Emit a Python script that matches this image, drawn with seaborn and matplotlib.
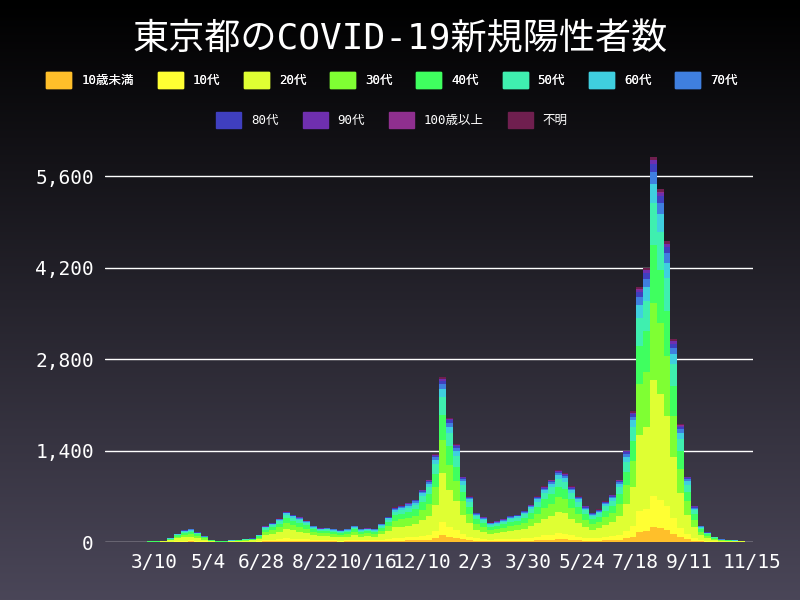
import numpy as np
import pandas as pd
import matplotlib.pyplot as plt
import seaborn as sns
from matplotlib.patches import Patch

# 週ごとの新規陽性者数（日次のピーク付近をグラフから読み取り）
totals = [1, 1, 2, 3, 5, 5, 10, 10, 20, 60,
          130, 180, 200, 150, 90, 30, 10, 10, 25, 30, 45, 55,
          110, 240, 290, 360, 470, 420, 380, 330, 250, 210, 220, 200, 180,
          200, 250, 200, 210, 200, 280, 390, 530, 560, 600, 650, 800, 950,
          1350, 2520, 1900, 1500, 1000, 700, 450, 380, 300, 320, 350, 400, 420,
          480, 570, 700, 850, 950, 1100, 1050, 850, 700, 550, 450, 500, 620,
          720, 950, 1400, 2000, 3900, 4200, 5900, 5400, 4600, 3100, 1800,
          1000, 550, 250, 150, 80, 40, 30, 25, 20]
start = "2020-01-20"

groups = ["10歳未満", "10代", "20代", "30代", "40代", "50代", "60代", "70代",
          "80代", "90代", "100歳以上", "不明"]
shares = [0.04, 0.08, 0.30, 0.20, 0.15, 0.11, 0.05, 0.03, 0.02, 0.01, 0.001, 0.009]
colors = ["#ffbf2a", "#ffff33", "#dfff33", "#7fff33", "#3fff5f", "#3fefaf",
          "#3fcfdf", "#3f7fdf", "#3f3fbf", "#6f2faf", "#8f2f8f", "#6f1f4f"]

tick_dates = ["2020-03-10", "2020-05-04", "2020-06-28", "2020-08-22", "2020-10-16",
              "2020-12-10", "2021-02-03", "2021-03-30", "2021-05-24", "2021-07-18",
              "2021-09-11", "2021-11-15"]
tick_labels = ["3/10", "5/4", "6/28", "8/22", "10/16", "12/10", "2/3", "3/30",
               "5/24", "7/18", "9/11", "11/15"]

sns.set_theme(style="dark")
plt.rcParams['font.family'] = ['DejaVu Sans Mono', 'Noto Sans CJK JP']

fig = plt.figure(figsize=(8, 6), dpi=100)
bg = fig.add_axes([0, 0, 1, 1])
grad = np.linspace(0, 1, 256).reshape(-1, 1)
top = np.array([0, 0, 0])
bot = np.array([0x4a, 0x46, 0x58]) / 255
img = top + grad[..., None] * (bot - top)
bg.imshow(img, aspect="auto", extent=[0, 1, 0, 1], origin="upper")
bg.axis("off")

ax = fig.add_axes([105 / 800, 58 / 600, 648 / 800, 392 / 600])
ax.patch.set_alpha(0)
dates = pd.date_range(start, periods=len(totals), freq="7D")
tot = np.array(totals, dtype=float)
bottom = np.zeros(len(tot))
for g, s, c in zip(groups, shares, colors):
    v = tot * s
    ax.bar(dates, v, bottom=bottom, width=7, color=c, linewidth=0, align="edge", zorder=3)
    bottom += v

ax.set_xlim(pd.Timestamp("2020-01-19"), pd.Timestamp("2021-11-16"))
ax.set_ylim(0, 6000)
ax.set_yticks([0, 1400, 2800, 4200, 5600])
ax.set_yticklabels(["0", "1,400", "2,800", "4,200", "5,600"], color="white", fontsize=14)
ax.set_xticks(pd.to_datetime(tick_dates))
ax.set_xticklabels(tick_labels, color="white", fontsize=14)
ax.tick_params(length=0, pad=8)
ax.grid(axis="y", color="white", linewidth=1, zorder=0)
ax.grid(axis="x", visible=False)
ax.set_axisbelow(True)
for sp in ax.spines.values():
    sp.set_visible(False)

fig.text(0.5, 0.935, "東京都のCOVID-19新規陽性者数", ha="center", va="center",
         color="white", fontsize=26)
h = [Patch(color=c) for c in colors]
kw = dict(frameon=False, labelcolor="white", handlelength=2,
          handleheight=1.6, columnspacing=1.9, prop={"weight": "normal", "size": 9})
l1 = fig.legend(h[:8], groups[:8], loc="center", bbox_to_anchor=(0.49, 0.867), ncol=8, **kw)
fig.legend(h[8:], groups[8:], loc="center", bbox_to_anchor=(0.49, 0.8), ncol=4, **kw)
fig.add_artist(l1)
fig.savefig("out.png", dpi=100)
